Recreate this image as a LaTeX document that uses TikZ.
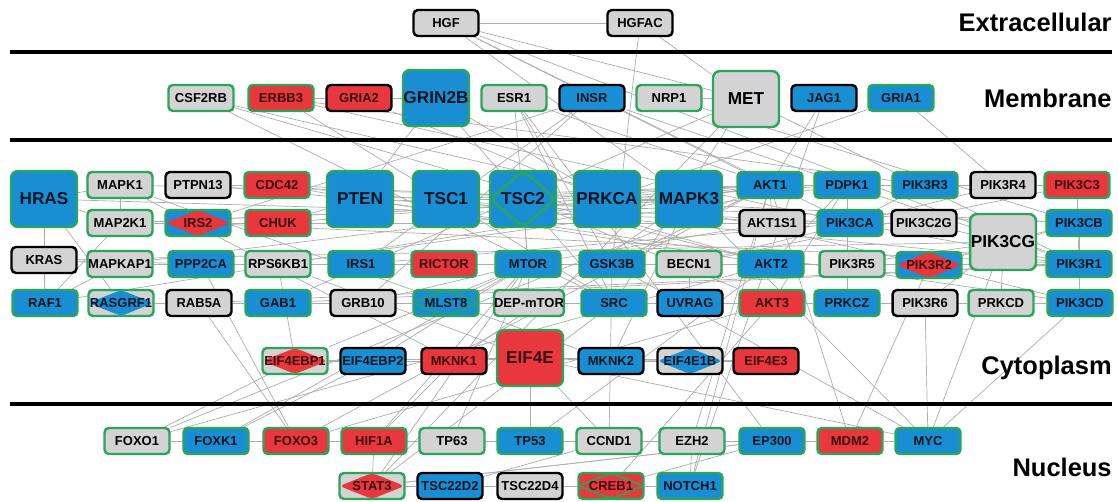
\documentclass[tikz,border=0pt]{standalone}
\usepackage{fontspec}
\setmainfont{Liberation Sans}
\usetikzlibrary{positioning}
\definecolor{cblue}{HTML}{1A8ED2}
\definecolor{cred}{HTML}{E8383D}
\definecolor{cgrey}{HTML}{D3D3D3}
\definecolor{cgreen}{HTML}{2AA65A}
\definecolor{cedge}{HTML}{ADADAD}
\pgfdeclarelayer{background}
\pgfsetlayers{background,main}

\begin{document}
\begin{tikzpicture}[
  x=0.02cm, y=-0.02cm,
  gene/.style={
    rectangle, rounded corners=2.5pt, line width=1.4pt,
    minimum width=1.3cm, minimum height=0.52cm, inner sep=0pt,
    font=\bfseries\fontsize{7.4}{8}\selectfont
  },
  biggene/.style={
    gene, rounded corners=4pt, minimum width=1.32cm, minimum height=1.12cm,
    font=\bfseries\fontsize{9.8}{11}\selectfont
  },
  blueg/.style={fill=cblue, draw=cgreen, text=cblue!15!black},
  bluek/.style={fill=cblue, draw=black, text=cblue!15!black},
  redg/.style={fill=cred, draw=cgreen, text=cred!25!black},
  redk/.style={fill=cred, draw=black, text=cred!25!black},
  greyg/.style={fill=cgrey, draw=cgreen, text=black},
  greyk/.style={fill=cgrey, draw=black, text=black},
  diamondfill/.style={path picture={
    \fill[#1] (path picture bounding box.west) -- (path picture bounding box.north)
      -- (path picture bounding box.east) -- (path picture bounding box.south) -- cycle;}},
  diamondline/.style={path picture={
    \draw[#1, line width=1.4pt] (path picture bounding box.west) -- (path picture bounding box.north)
      -- (path picture bounding box.east) -- (path picture bounding box.south) -- cycle;}},
  link/.style={draw=cedge, line width=0.4pt},
  divider/.style={line width=1.8pt},
  region/.style={anchor=east, inner sep=0pt, font=\bfseries\fontsize{14.5}{16}\selectfont}
]
\useasboundingbox (0,0) rectangle (1118,502);

% ============================================================
% Compartment dividers and labels
% ============================================================
\foreach \yl in {52, 140, 404} {
  \draw[divider] (10,\yl) -- (1112,\yl);
}
\node[region] (lext) at (1112, 22) {Extracellular};
\node[region] (lmem) at (1112, 98) {Membrane};
\node[region] (lcyt) at (1112, 368) {Cytoplasm};
\node[region] (lnuc) at (1112, 467) {Nucleus};

% ============================================================
% Extracellular
% ============================================================
\node[gene, greyk] (HGF) at (446, 23) {HGF};
\node[gene, greyk] (HGFAC) at (640, 23) {HGFAC};

% ============================================================
% Membrane
% ============================================================
\foreach \n/\xp/\s in {CSF2RB/201/greyg, ERBB3/281/redg, GRIA2/359/redk,
    ESR1/514/greyg, INSR/592/bluek, NRP1/669/greyg, JAG1/824/bluek, GRIA1/901/blueg} {
  \node[gene, \s] (\n) at (\xp, 98) {\n};
}
\node[biggene, blueg] (GRIN2B) at (436, 98) {GRIN2B};
\node[biggene, greyg] (MET) at (746, 99) {MET};

% ============================================================
% Cytoplasm
% ============================================================

% large nodes
\foreach \n/\xp in {HRAS/44, PTEN/360, TSC1/446, PRKCA/607, MAPK3/689} {
  \node[biggene, blueg] (\n) at (\xp, 199) {\n};
}
\node[biggene, blueg, diamondline=cgreen] (TSC2) at (523, 199) {TSC2};
\node[biggene, greyg] (PIK3CG) at (1003, 242) {PIK3CG};

% row A
\foreach \n/\xp/\s in {MAPK1/120/greyg, PTPN13/198/greyk, CDC42/277/redg,
    AKT1/770/blueg, PDPK1/847/blueg, PIK3R3/925/blueg, PIK3R4/1003/greyk,
    PIK3C3/1077/redg} {
  \node[gene, \s] (\n) at (\xp, 185) {\n};
}

% row B
\foreach \n/\xp/\s in {MAP2K1/120/greyg, CHUK/278/redg, AKT1S1/772/greyk,
    PIK3CA/850/blueg, PIK3C2G/924/greyk, PIK3CB/1079/blueg} {
  \node[gene, \s] (\n) at (\xp, 223) {\n};
}
\node[gene, blueg, diamondfill=cred, text=cred!25!black] (IRS2) at (198, 223) {IRS2};

% row C
\foreach \n/\xp/\s in {MAPKAP1/120/greyg, PPP2CA/201/blueg, RPS6KB1/278/greyg,
    IRS1/361/blueg, RICTOR/444/redg, MTOR/528/blueg, GSK3B/612/blueg,
    BECN1/689/greyg, AKT2/771/blueg, PIK3R5/852/greyg, PIK3R1/1079/blueg} {
  \node[gene, \s] (\n) at (\xp, 264) {\n};
}
\node[gene, greyk] (KRAS) at (44, 260) {KRAS};
\node[gene, blueg, diamondfill=cred, text=cred!25!black] (PIK3R2) at (929, 265) {PIK3R2};

% row D
\foreach \n/\xp/\s in {RAF1/45/blueg, RAB5A/199/greyk, GAB1/278/blueg,
    GRB10/363/greyk, SRC/614/blueg, UVRAG/690/bluek, AKT3/772/redg,
    PRKCZ/847/blueg, PIK3R6/925/greyk, PRKCD/1001/greyg, PIK3CD/1080/blueg} {
  \node[gene, \s] (\n) at (\xp, 303) {\n};
}
\node[gene, greyg, diamondfill=cblue, text=cblue!15!black] (RASGRF1) at (121, 303) {RASGRF1};
\node[gene, blueg, diamondline=cgreen!60!cblue] (MLST8) at (446, 303) {MLST8};
\node[gene, greyg] (DEPmTOR) at (529, 303) {DEP-mTOR};

% row E
\node[gene, greyg, diamondfill=cred, text=cred!25!black] (EIF4EBP1) at (295, 361) {EIF4EBP1};
\node[gene, bluek] (EIF4EBP2) at (373, 361) {EIF4EBP2};
\node[gene, redk] (MKNK1) at (454, 361) {MKNK1};
\node[biggene, redg] (EIF4E) at (530, 358) {EIF4E};
\node[gene, bluek] (MKNK2) at (611, 361) {MKNK2};
\node[gene, greyk, diamondfill=cblue, text=cblue!15!black] (EIF4E1B) at (690, 361) {EIF4E1B};
\node[gene, redk] (EIF4E3) at (766, 361) {EIF4E3};

% ============================================================
% Nucleus
% ============================================================
\foreach \n/\xp/\s in {FOXO1/137/greyg, FOXK1/216/blueg, FOXO3/296/redg,
    HIF1A/374/redg, TP63/452/greyg, TP53/530/blueg, CCND1/609/greyg,
    EZH2/692/greyg, EP300/772/blueg, MDM2/850/redg, MYC/928/blueg} {
  \node[gene, \s] (\n) at (\xp, 441) {\n};
}
\node[gene, greyg, diamondfill=cred, text=cred!25!black] (STAT3) at (372, 486) {STAT3};
\node[gene, bluek] (TSC22D2) at (450, 486) {TSC22D2};
\node[gene, greyk] (TSC22D4) at (530, 486) {TSC22D4};
\node[gene, redg, diamondline=cgreen!70!cred] (CREB1) at (611, 486) {CREB1};
\node[gene, blueg] (NOTCH1) at (690, 486) {NOTCH1};

% ============================================================
% Interactions (behind the nodes)
% ============================================================
\begin{pgfonlayer}{background}
\foreach \a/\b in {
  HGF/HGFAC, HGF/MET, HGF/MAPK3, HGF/AKT1, HGF/PIK3R1, HGF/PIK3CA, HGFAC/MET,
  HGFAC/GSK3B, CSF2RB/PIK3R2, CSF2RB/AKT2, CSF2RB/SRC, ERBB3/PIK3R3,
  ERBB3/PIK3CA, ERBB3/GRIA2, ERBB3/SRC, GRIA2/PRKCA, GRIA2/GRIN2B,
  GRIN2B/PTEN, GRIN2B/SRC, GRIN2B/PRKCA, ESR1/MTOR, ESR1/AKT1, ESR1/SRC,
  ESR1/GSK3B, ESR1/EP300, INSR/IRS1, INSR/IRS2, INSR/PIK3R1, INSR/GRB10,
  NRP1/MET, NRP1/PIK3CB, MET/GAB1, MET/SRC, MET/PIK3R1, MET/STAT3,
  JAG1/NOTCH1, JAG1/AKT1, GRIA1/PIK3R4, GRIA1/PRKCA,
  HRAS/KRAS, HRAS/RAF1, HRAS/MAPK1, HRAS/PIK3CA, HRAS/RASGRF1, HRAS/MAP2K1,
  KRAS/MAPKAP1, KRAS/RAF1, KRAS/PIK3CG, RAF1/MAP2K1, RAF1/MAPKAP1,
  MAPK1/MAP2K1, MAP2K1/IRS2, IRS2/CHUK, MAPK1/MAPK3, MAP2K1/MAPK3,
  PTPN13/CDC42, PTPN13/PTEN, CDC42/PTEN, CDC42/PIK3R1, CHUK/AKT1,
  CHUK/PTEN, PTEN/AKT1, PTEN/PIK3CA, PTEN/PIK3CB, PTEN/PIK3CD, PTEN/AKT2,
  TSC1/TSC2, TSC1/AKT1, TSC2/MTOR, TSC2/AKT1, TSC2/AKT2, TSC2/AKT3,
  PRKCA/MAPK3, PRKCA/PDPK1, MAPK3/AKT1, MAPK3/MAP2K1, AKT1/PDPK1,
  PDPK1/PIK3R3, PIK3R3/PIK3R4, PIK3R4/PIK3C3, PIK3C3/BECN1, PIK3R4/BECN1,
  PIK3CA/PIK3C2G, PIK3C2G/PIK3CG, PIK3CG/PIK3CB, PIK3CB/PIK3R1,
  PIK3R1/PIK3CD, PIK3R1/PIK3CA, PIK3R3/PIK3CA, KRAS/PPP2CA,
  MAPKAP1/PPP2CA, PPP2CA/RPS6KB1, RPS6KB1/IRS1, IRS1/RICTOR, RICTOR/MTOR,
  MTOR/GSK3B, GSK3B/BECN1, BECN1/AKT2, AKT2/PIK3R5, PIK3R5/PIK3R2,
  PIK3R2/PIK3CG, RASGRF1/RAB5A, RAB5A/GAB1, GAB1/GRB10, GRB10/MLST8,
  MLST8/DEPmTOR, DEPmTOR/SRC, SRC/UVRAG, UVRAG/AKT3, AKT3/PRKCZ,
  PRKCZ/PIK3R6, PIK3R6/PRKCD, PRKCD/PIK3CD, MAPKAP1/MTOR, MAPKAP1/RICTOR,
  MAPKAP1/AKT1, RPS6KB1/MTOR, RPS6KB1/EIF4EBP1, IRS1/PIK3R1, IRS1/PIK3CA,
  IRS2/PIK3R1, IRS2/PIK3CA, GAB1/PIK3R1, GRB10/MTOR, MLST8/MTOR,
  DEPmTOR/MTOR, UVRAG/BECN1, AKT1S1/MTOR, AKT1S1/AKT1, GSK3B/AKT1,
  GSK3B/AKT2, PDPK1/AKT2, PDPK1/AKT3, PDPK1/PRKCZ, PDPK1/RPS6KB1,
  PRKCD/PIK3CG, PIK3R6/PIK3CG, PIK3R5/PIK3CG, PIK3CD/PIK3R2,
  PIK3CB/PIK3R2, PIK3C3/PIK3R1, CDC42/PIK3CB, RAF1/AKT1, RAB5A/PIK3R1,
  EIF4EBP1/EIF4EBP2, EIF4EBP2/MKNK1, MKNK1/EIF4E, EIF4E/MKNK2,
  EIF4E/EIF4E1B, EIF4E/EIF4E3, EIF4E/EIF4EBP1, MTOR/EIF4EBP1,
  MTOR/EIF4EBP2, MAPK1/MKNK1, MAPK3/MKNK1, MAPK3/MKNK2, MAPK1/MKNK2,
  EIF4E/MYC, EIF4E/TP53, EIF4E/CCND1, MKNK2/EIF4E3, RPS6KB1/EIF4E,
  FOXO1/AKT1, FOXO1/AKT2, FOXO1/EIF4EBP1, FOXK1/EIF4EBP2, FOXK1/MTOR,
  FOXO3/AKT1, FOXO3/AKT3, FOXO3/RAB5A, HIF1A/MTOR, HIF1A/STAT3,
  HIF1A/EP300, HIF1A/MKNK1, TP63/TP53, TP53/CCND1, CCND1/EZH2, EZH2/EP300,
  EP300/MDM2, MDM2/MYC, MDM2/AKT1, TP53/MDM2, TP53/EP300, TP53/AKT2,
  STAT3/TSC22D2, TSC22D2/TSC22D4, TSC22D4/CREB1, CREB1/NOTCH1,
  CREB1/EP300, CREB1/AKT3, NOTCH1/EZH2, NOTCH1/AKT1, MYC/PIK3R6,
  MYC/GSK3B, MYC/MAPK3, MYC/PIK3CD, MYC/PIK3CG, CCND1/GSK3B, STAT3/SRC,
  STAT3/EP300, STAT3/MTOR, FOXO1/EP300, EZH2/AKT1, EP300/STAT3,
  TP63/MTOR, MDM2/PIK3R2, FOXO3/PPP2CA, TSC22D2/CCND1, EIF4E1B/MKNK2} {
  \draw[link] (\a) -- (\b);
}
\end{pgfonlayer}

\end{tikzpicture}
\end{document}
